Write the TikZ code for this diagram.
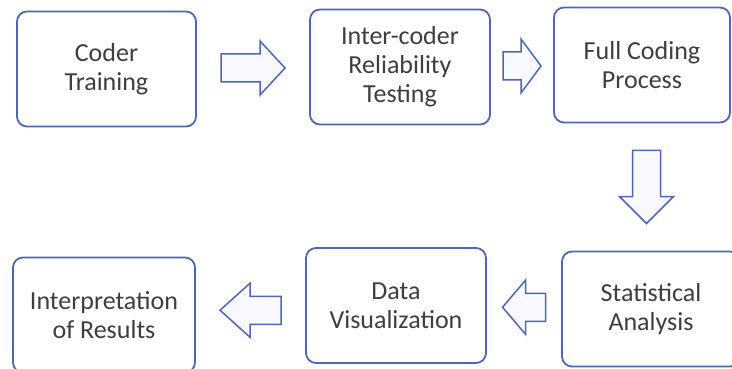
\documentclass[tikz,border=0pt]{standalone}
\usepackage{fontspec}
\setmainfont{Carlito}
\usetikzlibrary{calc}
\usetikzlibrary{positioning}

\definecolor{boxblue}{RGB}{79,101,186}
\definecolor{arrowfill}{RGB}{248,250,255}
\definecolor{textgray}{RGB}{62,62,62}

\tikzset{
  stage/.style = {draw=boxblue, line width=1.8pt, rounded corners=10pt, fill=white,
    minimum width=#1, minimum height=115pt, align=center, inner sep=0pt,
    text=textgray, font=\fontsize{26}{29}\selectfont},
  stage/.default = 180pt,
  fatarrow/.style = {draw=boxblue, line width=1.5pt, fill=arrowfill, line join=miter}
}

% block arrow: centre, angle, length, head length
\newcommand{\blockarrow}[4]{%
  \draw[fatarrow, shift={(#1)}, rotate=#2]
    (-#3/2,-14) -- (#3/2-#4,-14) -- (#3/2-#4,-27) -- (#3/2,0)
    -- (#3/2-#4,27) -- (#3/2-#4,14) -- (-#3/2,14) -- cycle;}

\begin{document}
\begin{tikzpicture}[x=1pt,y=-1pt]
  \fill[white] (0,0) rectangle (732,369);
  \clip (0,0) rectangle (732,369);

  \node[stage=179pt] (train)  at (106.5,69) {Coder\\Training};
  \node[stage]       (inter)  at (400,67)   {Inter-coder\\Reliability\\Testing};
  \node[stage=176pt] (full)   at (642,65)   {Full Coding\\Process};
  \node[stage=178pt] (stats)  at (651,309)  {Statistical\\Analysis};
  \node[stage]       (visual) at (396,305.5) {Data\\Visualization};
  \node[stage=182pt] (interp) at (104,315)  {Interpretation\\of Results};

  \coordinate (a1) at ($(train.east)!0.5!(inter.west)$);
  \coordinate (a2) at ($(inter.east)!0.5!(full.west)$);
  \coordinate (a3) at ($(full.south)!0.5!(stats.north)$);
  \coordinate (a4) at ($(stats.west)!0.5!(visual.east)$);
  \coordinate (a5) at ($(visual.west)!0.5!(interp.east)$);

  \blockarrow{a1}{0}{64}{25}
  \blockarrow{a2}{0}{38}{20}
  \blockarrow{a3}{-90}{73}{27}
  \blockarrow{a4}{180}{43}{23}
  \blockarrow{a5}{180}{61}{30}
\end{tikzpicture}
\end{document}
